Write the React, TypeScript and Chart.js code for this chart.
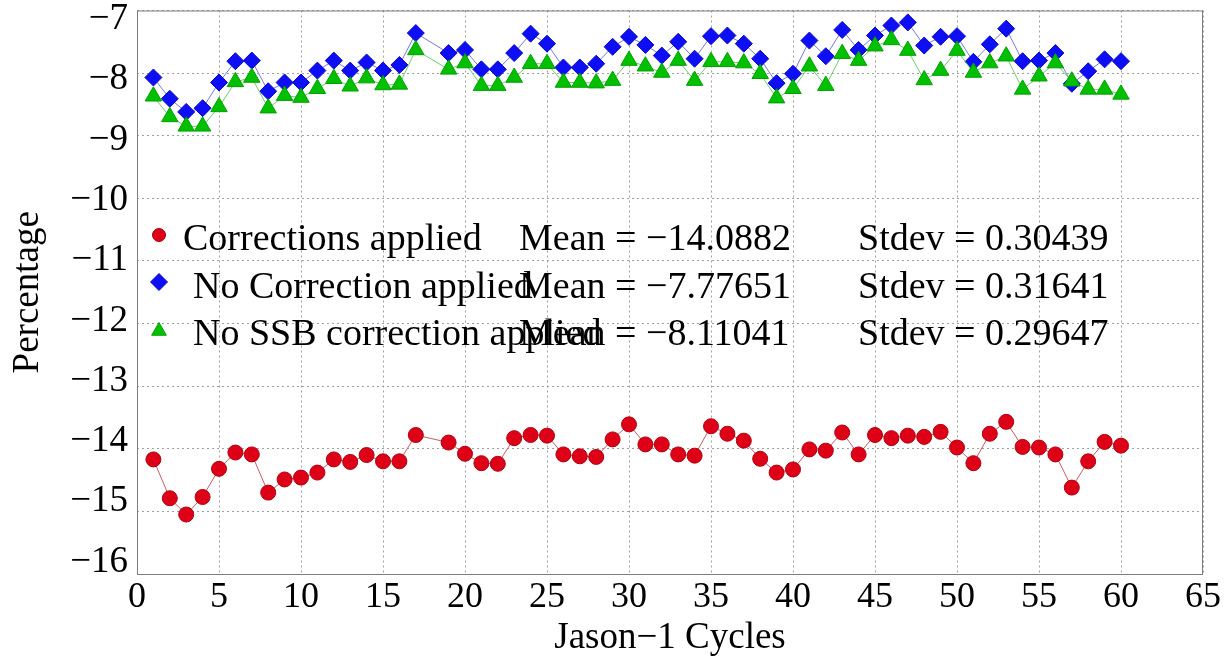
import React, { useEffect, useRef } from 'react';
import { Chart, registerables } from 'chart.js';

Chart.register(...registerables);

const cycles = [
  1, 2, 3, 4, 5, 6, 7, 8, 9, 10, 11, 12, 13, 14, 15, 16, 17,
  19, 20, 21, 22, 23, 24, 25, 26, 27, 28, 29, 30, 31, 32, 33, 34, 35, 36, 37, 38, 39, 40,
  41, 42, 43, 44, 45, 46, 47, 48, 49, 50, 51, 52, 53, 54, 55, 56, 57, 58, 59, 60,
];

const correctionsApplied = [
  -14.17, -14.79, -15.05, -14.77, -14.32, -14.06, -14.09, -14.70, -14.49, -14.46, -14.38, -14.17, -14.21, -14.10, -14.20, -14.20, -13.78,
  -13.90, -14.08, -14.23, -14.24, -13.83, -13.78, -13.79, -14.09, -14.12, -14.13, -13.85, -13.61, -13.93, -13.93, -14.09, -14.11, -13.64, -13.76, -13.87, -14.16, -14.38, -14.33,
  -14.01, -14.03, -13.74, -14.09, -13.78, -13.83, -13.79, -13.81, -13.73, -13.98, -14.23, -13.76, -13.57, -13.97, -13.98, -14.09, -14.62, -14.20, -13.89, -13.95,
];

const noCorrection = [
  -8.07, -8.41, -8.62, -8.56, -8.15, -7.81, -7.80, -8.29, -8.15, -8.15, -7.96, -7.80, -7.96, -7.83, -7.96, -7.87, -7.36,
  -7.68, -7.63, -7.94, -7.94, -7.68, -7.37, -7.53, -7.91, -7.91, -7.85, -7.58, -7.42, -7.55, -7.72, -7.50, -7.77, -7.41, -7.40, -7.53, -7.77, -8.16, -8.01,
  -7.48, -7.73, -7.31, -7.63, -7.40, -7.24, -7.19, -7.56, -7.42, -7.41, -7.82, -7.54, -7.29, -7.81, -7.80, -7.68, -8.17, -7.97, -7.78, -7.81,
];

const noSSB = [
  -8.37, -8.70, -8.85, -8.85, -8.54, -8.14, -8.07, -8.56, -8.36, -8.39, -8.25, -8.09, -8.21, -8.08, -8.19, -8.18, -7.63,
  -7.94, -7.84, -8.20, -8.20, -8.07, -7.85, -7.85, -8.15, -8.15, -8.16, -8.12, -7.80, -7.89, -7.99, -7.80, -8.12, -7.82, -7.82, -7.84, -8.01, -8.40, -8.25,
  -7.89, -8.20, -7.69, -7.80, -7.57, -7.47, -7.64, -8.11, -7.96, -7.64, -7.99, -7.84, -7.73, -8.26, -8.05, -7.84, -8.13, -8.26, -8.26, -8.34,
];

const seriesNames = ['Corrections applied', 'No Correction applied', 'No SSB correction applied'];
const meanLabels = ['Mean = \u221214.0882', 'Mean = \u22127.77651', 'Mean = \u22128.11041'];
const stdevLabels = ['Stdev = 0.30439', 'Stdev = 0.31641', 'Stdev = 0.29647'];

const xTitle = 'Jason\u22121 Cycles';
const yTitle = 'Percentage';

const FONT = '"Liberation Serif", "Times New Roman", serif';

const RED = 'rgb(222,0,22)';
const RED_EDGE = 'rgb(175,0,15)';
const RED_LINE = 'rgb(200,90,100)';
const BLUE = 'rgb(14,14,245)';
const BLUE_EDGE = 'rgb(10,10,200)';
const BLUE_LINE = 'rgb(120,120,215)';
const GREEN = 'rgb(0,192,0)';
const GREEN_EDGE = 'rgb(0,160,0)';
const GREEN_LINE = 'rgb(110,205,110)';

const toPoints = (ys: number[]) => ys.map((y, i) => ({ x: cycles[i], y }));

const minus = (v: number) => (v < 0 ? '\u2212' + Math.abs(v) : String(v));

function drawMarker(ctx: CanvasRenderingContext2D, kind: string, x: number, y: number, r: number, fill: string, edge: string) {
  ctx.save();
  ctx.beginPath();
  if (kind === 'circle') {
    ctx.arc(x, y, r, 0, Math.PI * 2);
  } else if (kind === 'diamond') {
    ctx.moveTo(x, y - r);
    ctx.lineTo(x + r, y);
    ctx.lineTo(x, y + r);
    ctx.lineTo(x - r, y);
    ctx.closePath();
  } else {
    const h = r * 1.5;
    const w = r * Math.sqrt(3);
    ctx.moveTo(x, y - r);
    ctx.lineTo(x + w / 2, y - r + h);
    ctx.lineTo(x - w / 2, y - r + h);
    ctx.closePath();
  }
  ctx.fillStyle = fill;
  ctx.fill();
  ctx.strokeStyle = edge;
  ctx.lineWidth = 1;
  ctx.stroke();
  ctx.restore();
}

const framePlugin = {
  id: 'frame',
  beforeDatasetsDraw(chart: any) {
    const { ctx, chartArea } = chart;
    ctx.save();
    ctx.strokeStyle = 'rgb(125,125,125)';
    ctx.lineWidth = 1;
    ctx.strokeRect(chartArea.left + 0.5, chartArea.top + 0.5, chartArea.right - chartArea.left - 1, chartArea.bottom - chartArea.top);
    ctx.restore();
  },
};

// y tick labels: placed from the y scale, drawn slightly compressed toward the centre like the source figure
const yLabelPlugin = {
  id: 'yLabels',
  afterDraw(chart: any) {
    const { ctx, chartArea } = chart;
    const scale = chart.scales.y;
    const h = chartArea.bottom - chartArea.top;
    ctx.save();
    ctx.font = `37px ${FONT}`;
    ctx.fillStyle = '#000';
    ctx.textAlign = 'right';
    ctx.textBaseline = 'middle';
    scale.ticks.forEach((t: any) => {
      const py = scale.getPixelForValue(t.value);
      const ly = chartArea.top + 9 + (py - chartArea.top) * ((h - 21) / h);
      ctx.fillText(minus(t.value), chartArea.left - 9, ly);
    });
    ctx.restore();
  },
};

const legendPlugin = {
  id: 'statsLegend',
  afterDatasetsDraw(chart: any) {
    const { ctx } = chart;
    const rows = [
      { kind: 'circle', fill: RED, edge: RED_EDGE, r: 6.5, my: 235, ty: 250, tx: 183 },
      { kind: 'diamond', fill: BLUE, edge: BLUE_EDGE, r: 8.5, my: 282, ty: 298, tx: 193 },
      { kind: 'triangle', fill: GREEN, edge: GREEN_EDGE, r: 8.5, my: 331, ty: 345, tx: 193 },
    ];
    ctx.save();
    ctx.font = `38px ${FONT}`;
    ctx.fillStyle = '#000';
    ctx.textBaseline = 'alphabetic';
    ctx.textAlign = 'left';
    rows.forEach((row, i) => {
      drawMarker(ctx, row.kind, 159, row.my, row.r, row.fill, row.edge);
      ctx.fillText(seriesNames[i], row.tx, row.ty);
      ctx.fillText(meanLabels[i], 519, row.ty);
      ctx.fillText(stdevLabels[i], 858, row.ty);
    });
    ctx.restore();
  },
};

export default function App() {
  const canvasRef = useRef<HTMLCanvasElement | null>(null);

  useEffect(() => {
    const canvas = canvasRef.current;
    if (!canvas) return;
    const chart = new Chart(canvas, {
      type: 'line',
      data: {
        datasets: [
          {
            label: seriesNames[2],
            data: toPoints(noSSB),
            borderColor: GREEN_LINE,
            borderWidth: 1,
            backgroundColor: GREEN,
            pointBackgroundColor: GREEN,
            pointBorderColor: GREEN_EDGE,
            pointBorderWidth: 1,
            pointStyle: 'triangle',
            pointRadius: 9.5,
            pointHoverRadius: 9.5,
            tension: 0,
            order: 0,
          },
          {
            label: seriesNames[1],
            data: toPoints(noCorrection),
            borderColor: BLUE_LINE,
            borderWidth: 1,
            backgroundColor: BLUE,
            pointBackgroundColor: BLUE,
            pointBorderColor: BLUE_EDGE,
            pointBorderWidth: 1,
            pointStyle: 'rectRot',
            pointRadius: 8.5,
            pointHoverRadius: 8.5,
            tension: 0,
            order: 1,
          },
          {
            label: seriesNames[0],
            data: toPoints(correctionsApplied),
            borderColor: RED_LINE,
            borderWidth: 1,
            backgroundColor: RED,
            pointBackgroundColor: RED,
            pointBorderColor: RED_EDGE,
            pointBorderWidth: 1,
            pointStyle: 'circle',
            pointRadius: 7.5,
            pointHoverRadius: 7.5,
            tension: 0,
            order: 2,
          },
        ],
      },
      options: {
        animation: false,
        responsive: false,
        maintainAspectRatio: false,
        layout: { padding: { top: 9, right: 29, left: 0, bottom: 0 } },
        plugins: {
          legend: { display: false },
          tooltip: { enabled: false },
        },
        scales: {
          x: {
            type: 'linear',
            min: 0,
            max: 65,
            ticks: {
              stepSize: 5,
              color: '#000',
              font: { family: FONT, size: 36 },
              padding: 2,
              maxRotation: 0,
              autoSkip: false,
            },
            grid: { color: 'rgb(160,160,160)', lineWidth: 1, drawTicks: false },
            border: { display: false, dash: [2, 3] },
            title: {
              display: true,
              text: xTitle,
              color: '#000',
              font: { family: FONT, size: 37 },
              padding: { top: 0, bottom: 4 },
            },
            afterFit: (s: any) => {
              s.height = 90;
              s.paddingLeft = 0;
              s.paddingRight = 0;
            },
          },
          y: {
            type: 'linear',
            min: -16,
            max: -7,
            ticks: {
              display: false,
              stepSize: 1,
            },
            grid: { color: 'rgb(160,160,160)', lineWidth: 1, drawTicks: false },
            border: { display: false, dash: [2, 3] },
            title: {
              display: true,
              text: yTitle,
              color: '#000',
              font: { family: FONT, size: 37 },
              padding: { top: 6, bottom: 0 },
            },
            afterFit: (s: any) => {
              s.width = 137;
              s.paddingTop = 0;
              s.paddingBottom = 0;
            },
          },
        },
      },
      plugins: [framePlugin, legendPlugin, yLabelPlugin],
    } as any);
    return () => {
      chart.destroy();
    };
  }, []);

  return (
    <div style={{ position: 'fixed', left: 0, top: 0, width: 1232, height: 664, background: '#fff' }}>
      <canvas ref={canvasRef} width={1232} height={664} style={{ width: 1232, height: 664, display: 'block' }} />
    </div>
  );
}
